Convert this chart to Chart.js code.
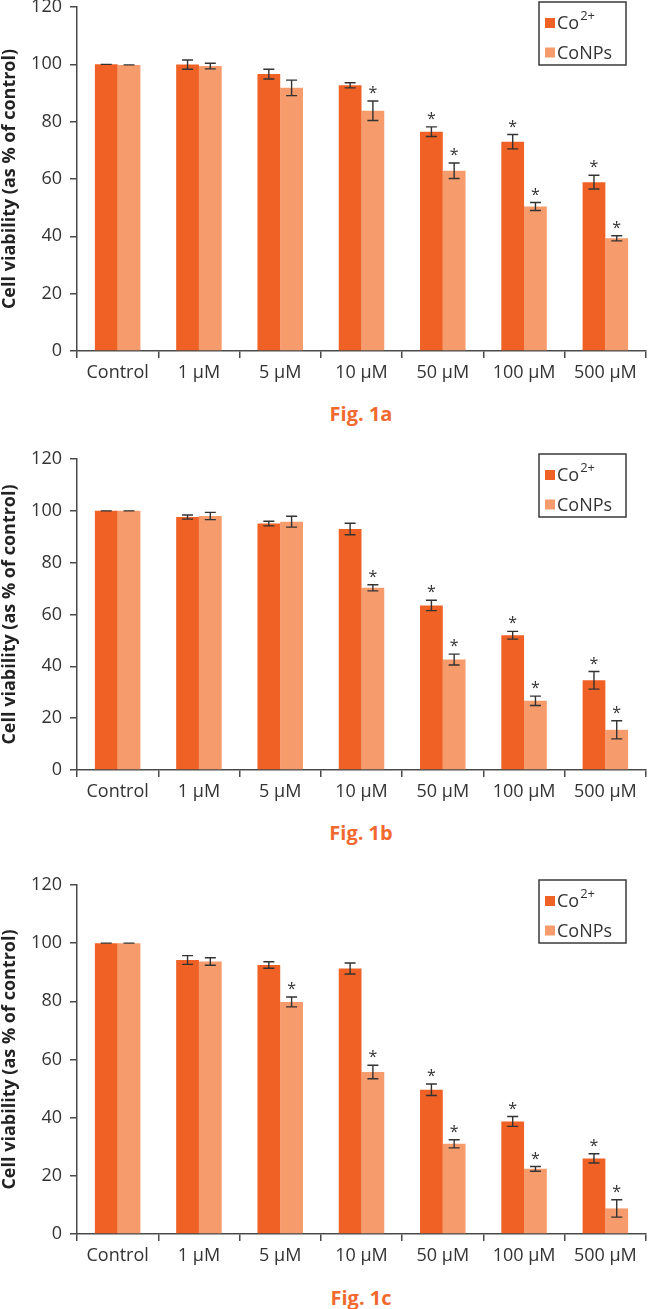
<!DOCTYPE html>
<html>
<head>
<meta charset="utf-8">
<script src="https://cdn.jsdelivr.net/npm/chart.js@4.4.1/dist/chart.umd.min.js"></script>
<style>
    body { margin: 0; background: #fff; width: 648px; height: 1309px; position: relative; overflow: hidden; font-family: 'Open Sans', sans-serif; }
    canvas { position: absolute; left: 0; }
    .caption { position: absolute; left: 361px; transform: translate(-50%, -50%); color: #f26a30; font-weight: bold; font-size: 20px; white-space: nowrap; }
</style>
</head>
<body>
<canvas id="chartA" width="648" height="409"></canvas>
<canvas id="chartB" width="648" height="376"></canvas>
<canvas id="chartC" width="648" height="414"></canvas>
<div class="caption" style="top:413px">Fig. 1a</div>
<div class="caption" style="top:832px">Fig. 1b</div>
<div class="caption" style="top:1297px">Fig. 1c</div>
<script>
const categories = ['Control', '1 µM', '5 µM', '10 µM', '50 µM', '100 µM', '500 µM'];
const seriesLabels = ['Co2+', 'CoNPs'];
const yTickValues = [0, 20, 40, 60, 80, 100, 120];

// Fig. 1a
const co2A = [100, 99.9, 96.6, 92.7, 76.5, 73.0, 58.9];
const co2ErrA = [0, 1.6, 1.7, 0.9, 1.7, 2.5, 2.4];
const npA = [99.8, 99.4, 91.8, 83.8, 62.9, 50.4, 39.3];
const npErrA = [0, 1.0, 2.7, 3.4, 2.7, 1.4, 0.9];
const co2StarA = [0, 0, 0, 0, 1, 1, 1];
const npStarA = [0, 0, 0, 1, 1, 1, 1];

// Fig. 1b
const co2B = [100, 97.6, 95.1, 93.0, 63.5, 52.0, 34.6];
const co2ErrB = [0, 0.8, 0.9, 2.2, 2.0, 1.5, 3.4];
const npB = [100, 98.0, 95.8, 70.3, 42.6, 26.7, 15.5];
const npErrB = [0, 1.4, 2.1, 1.2, 2.1, 1.8, 3.5];
const co2StarB = [0, 0, 0, 0, 1, 1, 1];
const npStarB = [0, 0, 0, 1, 1, 1, 1];

// Fig. 1c
const co2C = [100, 94.2, 92.5, 91.3, 49.6, 38.7, 26.0];
const co2ErrC = [0, 1.5, 1.1, 1.9, 2.0, 1.7, 1.6];
const npC = [100, 93.7, 79.8, 55.7, 31.0, 22.4, 8.8];
const npErrC = [0, 1.3, 1.7, 2.3, 1.4, 0.8, 3.0];
const co2StarC = [0, 0, 0, 0, 1, 1, 1];
const npStarC = [0, 0, 1, 1, 1, 1, 1];

const barColors = ['#f06125', '#f69b6c'];
const inkColor = '#333333';
const fontFamily = "'Open Sans', sans-serif";

// error bars + asterisks
const errorBarPlugin = {
    id: 'errorBars',
    afterDatasetsDraw(chart) {
        let ctx = chart.ctx;
        let yScale = chart.scales.y;
        ctx.save();
        ctx.strokeStyle = inkColor;
        ctx.fillStyle = inkColor;
        ctx.lineWidth = 1.4;
        chart.data.datasets.forEach((ds, i) => {
            let meta = chart.getDatasetMeta(i);
            meta.data.forEach((bar, j) => {
                let v = ds.data[j];
                let e = ds.errors[j];
                let top = yScale.getPixelForValue(v + e);
                let bot = yScale.getPixelForValue(v - e);
                let x = bar.x;
                ctx.beginPath();
                ctx.moveTo(x, top); ctx.lineTo(x, bot);
                ctx.moveTo(x - 5.5, top); ctx.lineTo(x + 5.5, top);
                ctx.moveTo(x - 5.5, bot); ctx.lineTo(x + 5.5, bot);
                ctx.stroke();
                if (ds.stars[j]) {
                    ctx.font = '16px ' + fontFamily;
                    ctx.textAlign = 'center';
                    ctx.textBaseline = 'alphabetic';
                    ctx.fillText('*', x, top - 3);
                }
            });
        });
        ctx.restore();
    }
};

// boxed legend with superscript
const boxLegendPlugin = {
    id: 'boxLegend',
    afterDraw(chart) {
        let ctx = chart.ctx;
        let area = chart.chartArea;
        let boxRight = area.right - 20;
        let boxLeft = boxRight - 87;
        let boxTop = area.top - 5;
        ctx.save();
        ctx.strokeStyle = '#3a3a3a';
        ctx.lineWidth = 1.5;
        ctx.strokeRect(boxLeft, boxTop, 87, 63);
        chart.data.datasets.forEach((ds, i) => {
            let cy = boxTop + 21 + i * 29.5;
            ctx.fillStyle = ds.backgroundColor;
            ctx.fillRect(boxLeft + 6, cy - 5, 10, 10);
            ctx.fillStyle = inkColor;
            ctx.textAlign = 'left';
            ctx.textBaseline = 'middle';
            let m = ds.label.match(/^(\D+?)(\d\+)$/);
            let base = m ? m[1] : ds.label;
            ctx.font = '18px ' + fontFamily;
            ctx.fillText(base, boxLeft + 18, cy + 1);
            if (m) {
                let w = ctx.measureText(base).width;
                ctx.font = '13px ' + fontFamily;
                ctx.fillText(m[2], boxLeft + 18 + w + 1, cy - 7);
            }
        });
        ctx.restore();
    }
};

function makeChart(id, top, plotHeight, co2, co2Err, co2Star, np, npErr, npStar) {
    let canvas = document.getElementById(id);
    canvas.style.top = (top - 20) + 'px';
    canvas.height = 20 + plotHeight + 45;

    new Chart(canvas.getContext('2d'), {
        type: 'bar',
        data: {
            labels: categories,
            datasets: [
                { label: seriesLabels[0], data: co2, errors: co2Err, stars: co2Star, backgroundColor: barColors[0] },
                { label: seriesLabels[1], data: np, errors: npErr, stars: npStar, backgroundColor: barColors[1] }
            ]
        },
        options: {
            responsive: false,
            animation: false,
            layout: { padding: { top: 20, left: 0, right: 2, bottom: 0 } },
            datasets: { bar: { categoryPercentage: 0.56, barPercentage: 1.0 } },
            plugins: { legend: { display: false }, tooltip: { enabled: false } },
            scales: {
                x: {
                    afterFit(axis) { axis.height = 45; },
                    grid: { offset: true, drawOnChartArea: false, tickLength: 7, color: '#4a4a4a', lineWidth: 1.5 },
                    border: { display: true, color: '#4a4a4a', width: 1.5 },
                    ticks: { color: inkColor, font: { family: fontFamily, size: 18 }, padding: 4, maxRotation: 0, autoSkip: false }
                },
                y: {
                    min: 0,
                    max: 120,
                    afterFit(axis) { axis.width = 77; },
                    afterBuildTicks(axis) { axis.ticks = yTickValues.map(v => ({ value: v })); },
                    grid: { drawOnChartArea: false, tickLength: 7, color: '#4a4a4a', lineWidth: 1.5 },
                    border: { display: true, color: '#4a4a4a', width: 1.5 },
                    ticks: { color: inkColor, font: { family: fontFamily, size: 18 }, padding: 8 },
                    title: {
                        display: true,
                        text: 'Cell viability (as % of control)',
                        color: '#222',
                        font: { family: fontFamily, size: 18, weight: 'bold' },
                        padding: { top: -1, bottom: 0 }
                    }
                }
            }
        },
        plugins: [errorBarPlugin, boxLegendPlugin]
    });
}

makeChart('chartA', 7, 344, co2A, co2ErrA, co2StarA, npA, npErrA, npStarA);
makeChart('chartB', 459, 311, co2B, co2ErrB, co2StarB, npB, npErrB, npStarB);
makeChart('chartC', 885, 349, co2C, co2ErrC, co2StarC, npC, npErrC, npStarC);
</script>
</body>
</html>
